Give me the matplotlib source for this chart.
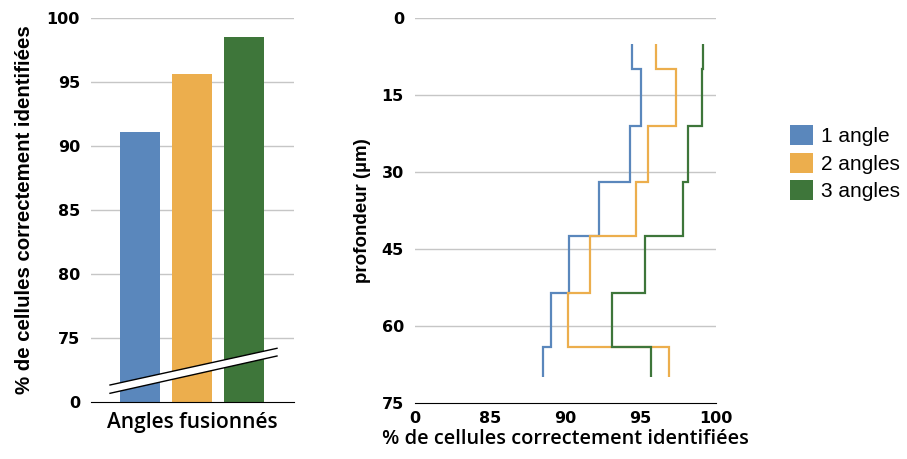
import matplotlib.pyplot as plt
import numpy as np
from matplotlib.patches import Patch, Polygon

# --- data ---
series = ["1 angle", "2 angles", "3 angles"]
colors = ["#5a87bc", "#ecae4d", "#3e763a"]

# left: overall % of correctly identified cells
bar_values = [91.1, 95.6, 98.5]

# right: step profiles vs depth (edges in um, one value per layer)
depth_edges = [5, 10, 21, 32, 42.5, 53.5, 64, 70]
profile_1 = [94.4, 95.0, 94.3, 92.2, 90.2, 89.05, 88.5]
profile_2 = [96.0, 97.35, 95.5, 94.7, 91.6, 90.15, 96.9]
profile_3 = [99.15, 99.05, 98.15, 97.8, 95.3, 93.1, 95.7]
profiles = [profile_1, profile_2, profile_3]

left_ticks = [70, 75, 80, 85, 90, 95, 100]
left_ticklabels = ["0", "75", "80", "85", "90", "95", "100"]
right_xticks = [80, 85, 90, 95, 100]
right_xticklabels = ["0", "85", "90", "95", "100"]
right_yticks = [0, 15, 30, 45, 60, 75]

W, H = 907, 459
fig = plt.figure(figsize=(W / 100, H / 100), dpi=100)

grid_c = "#c6c6c6"
tick_font = dict(family="DejaVu Sans", weight="bold", size=11.5)
label_font = dict(family="Open Sans", weight="semibold")

# ---------------- left bar chart ----------------
ax1 = fig.add_axes([91 / W, 1 - 402 / H, 203 / W, 384 / H])
x = np.arange(len(bar_values))
ax1.bar(x, np.array(bar_values) - 70, bottom=70, width=0.77, color=colors, zorder=2)
ax1.set_ylim(70, 100)
ax1.set_xlim(-0.94, 2.96)
ax1.set_yticks(left_ticks)
ax1.set_yticklabels(left_ticklabels, **tick_font)
ax1.set_xticks([])
for t in left_ticks[1:]:
    ax1.axhline(t, color=grid_c, lw=1, zorder=1)
for s in ["top", "right", "left"]:
    ax1.spines[s].set_visible(False)
ax1.spines["bottom"].set_color("black")
ax1.tick_params(axis="y", length=0, pad=8)
ax1.set_xlabel("Angles fusionnés", size=15, labelpad=7, **label_font)
ax1.set_ylabel("% de cellules correctement identifiées", family="Liberation Sans",
               weight="bold", size=14.7, labelpad=9)

# axis break band (axes fraction)
tr = ax1.transAxes
x0, x1 = 19 / 203, 186 / 203
y_up0, y_up1 = (402 - 385) / 384, (402 - 348.3) / 384
y_lo0, y_lo1 = (402 - 393.3) / 384, (402 - 356) / 384
ax1.add_patch(Polygon([(x0, y_lo0), (x1, y_lo1), (x1, y_up1), (x0, y_up0)],
                      closed=True, facecolor="white", edgecolor="none",
                      transform=tr, zorder=3, clip_on=False))
ax1.plot([x0, x1], [y_up0, y_up1], color="black", lw=1, transform=tr, zorder=4, clip_on=False)
ax1.plot([x0, x1], [y_lo0, y_lo1], color="black", lw=1, transform=tr, zorder=4, clip_on=False)

# ---------------- right step chart ----------------
ax2 = fig.add_axes([415 / W, 1 - 403 / H, 301 / W, 385 / H])
for vals, c, name in zip(profiles, colors, series):
    ax2.stairs(vals, depth_edges, orientation="horizontal", baseline=None,
               color=c, lw=1.6, zorder=3, label=name)
ax2.set_xlim(80, 100)
ax2.set_ylim(75, 0)
ax2.set_xticks(right_xticks)
ax2.set_xticklabels(right_xticklabels, **tick_font)
ax2.set_yticks(right_yticks)
ax2.set_yticklabels([str(t) for t in right_yticks], **tick_font)
for t in right_yticks[:-1]:
    ax2.axhline(t, color=grid_c, lw=1, zorder=1)
for s in ["top", "right", "left"]:
    ax2.spines[s].set_visible(False)
ax2.tick_params(axis="y", length=0, pad=8)
ax2.tick_params(axis="x", length=0, pad=6)
ax2.set_xlabel("% de cellules correctement identifiées", size=14.4, labelpad=2, **label_font)
ax2.set_ylabel("profondeur (µm)", family="Liberation Sans", weight="bold", size=13.5, labelpad=8)

# legend
handles = [Patch(facecolor=c, edgecolor="none") for c in colors]
fig.legend(handles, series, loc="upper left", bbox_to_anchor=(771 / W, 1 - 106 / H),
           frameon=False, prop=dict(family="Liberation Sans", size=15),
           handlelength=1.1, handleheight=1.1, handletextpad=0.4, labelspacing=0.32)

fig.savefig("out.png", dpi=100)
